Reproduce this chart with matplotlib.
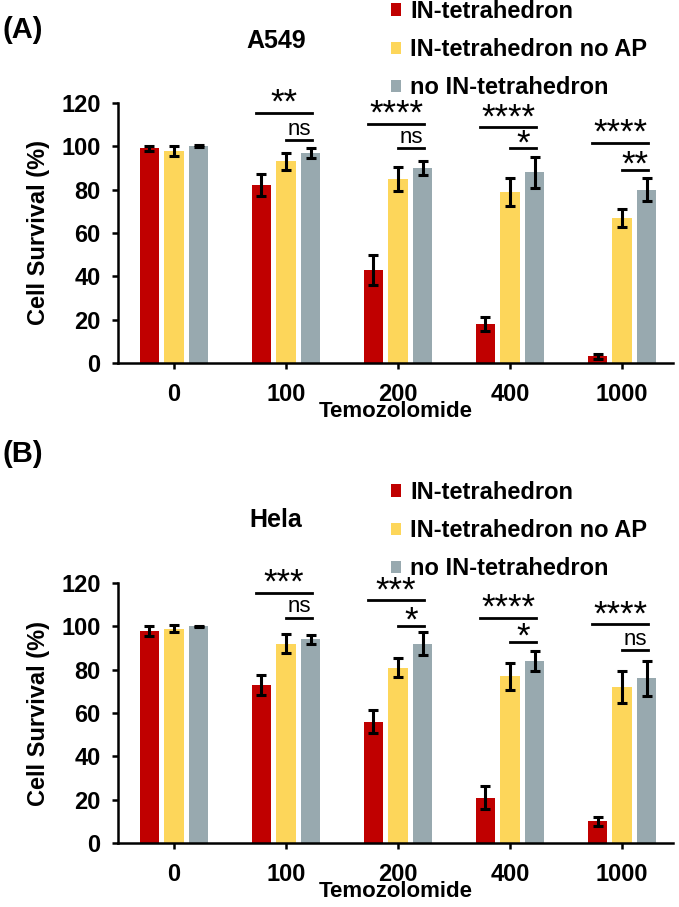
import numpy as np
import matplotlib.pyplot as plt
from matplotlib.patches import Patch

plt.rcParams['font.family'] = ['Liberation Sans', 'DejaVu Sans']

conc = ['0', '100', '200', '400', '1000']
groups = ['IN-tetrahedron', 'IN-tetrahedron no AP', 'no IN-tetrahedron']
colors = ['#C00000', '#FDD65A', '#98A9AF']

a549_in = [99, 82, 43, 18, 3]
a549_in_err = [1.2, 5, 7, 3.4, 1]
a549_noap = [98, 93, 85, 79, 67]
a549_noap_err = [2.3, 4, 5.4, 6.4, 4.3]
a549_no = [100, 97, 90, 88, 80]
a549_no_err = [0.5, 2.3, 3.4, 7.3, 5.4]

hela_in = [98, 73, 56, 21, 10]
hela_in_err = [2.3, 4.6, 5.3, 5.4, 2.2]
hela_noap = [99, 92, 81, 77, 72]
hela_noap_err = [1.4, 4.5, 4.2, 6.2, 7.3]
hela_no = [100, 94, 92, 84, 76]
hela_no_err = [0.3, 2.2, 5.2, 4.6, 8]

# significance marks for concentrations 100..1000
a549_long = ['**', '****', '****', '****']
a549_long_y = [115.4, 110.3, 108.8, 101.5]
a549_short = ['ns', 'ns', '*', '**']
a549_short_y = [102.8, 99, 99, 89]
hela_long = ['***', '***', '****', '****']
hela_long_y = [115.4, 112, 104, 101]
hela_short = ['ns', '*', '*', 'ns']
hela_short_y = [104, 100.3, 93, 89]

W = 679
H = 907
fig = plt.figure(figsize=(W / 100, H / 100), dpi=100)

x = np.arange(len(conc))
bw = 0.177
step = 0.219


def sig_text(ax, xc, y, s, long_line):
    if s == 'ns':
        ax.annotate(s, xy=(xc, y), xytext=(0, 4), textcoords='offset points',
                    ha='center', va='baseline', fontsize=16, annotation_clip=False)
    else:
        off = 0 if long_line else -3.5
        ax.annotate(s, xy=(xc, y), xytext=(0, off), textcoords='offset points',
                    ha='center', va='baseline', fontsize=25, annotation_clip=False)


def panel(top_px, vals, errs, long_s, long_y, short_s, short_y, title, title_y, lab, lab_y, leg_y):
    bottom_px = top_px + 260
    ax = fig.add_axes([118 / W, 1 - bottom_px / H, (673 - 118) / W, 260 / H])
    for i in range(3):
        ax.bar(x + (i - 1) * step, vals[i], bw, color=colors[i], yerr=errs[i],
               error_kw=dict(ecolor='black', elinewidth=2.2, capsize=3.6, capthick=2.2))
    for k in range(4):
        xc = x[k + 1]
        x0 = xc - step - 0.045
        x1 = xc + step + 0.01
        ax.plot([x0, x1], [long_y[k], long_y[k]], color='black', lw=2, clip_on=False)
        sig_text(ax, (x0 + x1) / 2, long_y[k], long_s[k], True)
        ax.plot([xc, x1], [short_y[k], short_y[k]], color='black', lw=2, clip_on=False)
        sig_text(ax, (xc + x1) / 2, short_y[k], short_s[k], False)
    ax.set_xlim(-0.5, 4.455)
    ax.set_ylim(0, 120)
    ax.set_yticks(range(0, 121, 20))
    ax.set_xticks(x)
    ax.set_xticklabels(conc)
    ax.spines['top'].set_visible(False)
    ax.spines['right'].set_visible(False)
    ax.spines['left'].set_linewidth(1.8)
    ax.spines['bottom'].set_linewidth(1.8)
    ax.tick_params(axis='both', width=1.8, length=4.5, labelsize=17)
    ax.tick_params(axis='y', pad=8)
    ax.tick_params(axis='x', pad=10)
    for t in ax.get_xticklabels() + ax.get_yticklabels():
        t.set_fontweight('bold')
    ax.set_ylabel('Cell Survival (%)', fontsize=17, fontweight='bold', labelpad=8)
    ax.set_xlabel('Temozolomide', fontsize=16, fontweight='bold', labelpad=-3.5)
    fig.text(276 / W, 1 - title_y / H, title, ha='center', va='center',
             fontsize=18, fontweight='bold')
    fig.text(0.003, 1 - lab_y / H, lab, ha='left', va='center',
             fontsize=21, fontweight='bold')
    handles = [Patch(facecolor=c, edgecolor='none') for c in colors]
    fig.legend(handles, groups, loc='upper left', bbox_to_anchor=(391 / W, 1 - leg_y / H),
               frameon=False, borderpad=0, borderaxespad=0, handlelength=0.42,
               handleheight=0.42, handletextpad=0.38, labelspacing=0.64,
               prop=dict(size=17, weight='bold'))
    return ax


panel(103, [a549_in, a549_noap, a549_no], [a549_in_err, a549_noap_err, a549_no_err],
      a549_long, a549_long_y, a549_short, a549_short_y, 'A549', 41, '(A)', 30, 0)
panel(583, [hela_in, hela_noap, hela_no], [hela_in_err, hela_noap_err, hela_no_err],
      hela_long, hela_long_y, hela_short, hela_short_y, 'Hela', 520, '(B)', 454, 481)

fig.savefig('out.png', dpi=100)
